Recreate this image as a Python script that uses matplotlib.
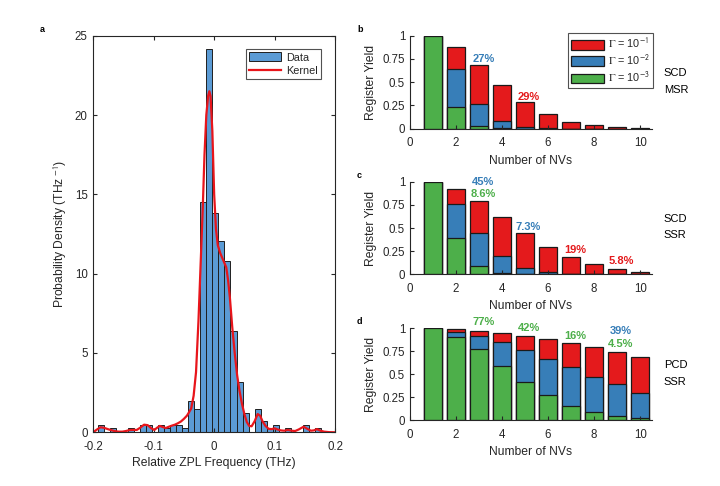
import numpy as np
import matplotlib.pyplot as plt
from matplotlib.patches import Patch
from matplotlib.lines import Line2D

plt.rcParams['font.family'] = ['Liberation Sans', 'DejaVu Sans']
plt.rcParams['mathtext.fontset'] = 'stix'
plt.rcParams['text.color'] = '#262626'
plt.rcParams['axes.labelcolor'] = '#262626'
plt.rcParams['xtick.color'] = '#262626'
plt.rcParams['ytick.color'] = '#262626'

# panel a: histogram of ZPL frequencies (bin width 0.01 THz)
bin_start = -0.193
bin_width = 0.01
density = [0.48, 0, 0.24, 0, 0, 0.24, 0, 0.48, 0.48, 0,
           0.48, 0.24, 0.48, 0.48, 0.24, 1.95, 1.45, 14.5, 24.15, 13.8,
           12.07, 10.82, 6.4, 3.2, 1.2, 0, 1.45, 0.73, 0.24, 0.48,
           0, 0.24, 0, 0, 0.48, 0, 0.24, 0, 0]

kernel_x = [-0.2, -0.195, -0.188, -0.182, -0.176, -0.17, -0.164, -0.158, -0.152, -0.146,
            -0.14, -0.134, -0.128, -0.122, -0.116, -0.11, -0.104, -0.099, -0.094, -0.09,
            -0.085, -0.08, -0.075, -0.07, -0.065, -0.06, -0.055, -0.05, -0.045, -0.041,
            -0.038, -0.034, -0.03, -0.026, -0.022, -0.019, -0.016, -0.013, -0.01, -0.008,
            -0.006, -0.003, 0.0, 0.003, 0.006, 0.01, 0.015, 0.02, 0.023, 0.026,
            0.03, 0.034, 0.038, 0.042, 0.046, 0.05, 0.054, 0.058, 0.062, 0.067,
            0.072, 0.076, 0.08, 0.085, 0.09, 0.095, 0.1, 0.105, 0.11, 0.116,
            0.122, 0.128, 0.134, 0.14, 0.148, 0.154, 0.16, 0.165, 0.17, 0.176,
            0.182, 0.19, 0.2]
kernel_y = [0.0, 0.15, 0.32, 0.28, 0.2, 0.13, 0.07, 0.04, 0.04, 0.08,
            0.14, 0.15, 0.15, 0.3, 0.48, 0.45, 0.25, 0.15, 0.3, 0.4,
            0.33, 0.27, 0.35, 0.42, 0.48, 0.57, 0.68, 0.85, 1.05, 1.3,
            1.5, 2.3, 3.8, 7.0, 11.0, 14.0, 17.5, 20.0, 21.2, 21.5,
            21.2, 19.0, 15.0, 12.8, 11.8, 11.3, 10.85, 10.4, 9.6, 8.5,
            6.6, 5.0, 3.6, 2.6, 1.8, 1.15, 0.65, 0.4, 0.38, 0.7,
            1.15, 1.05, 0.7, 0.4, 0.22, 0.2, 0.25, 0.18, 0.12, 0.1,
            0.15, 0.1, 0.08, 0.18, 0.35, 0.22, 0.1, 0.12, 0.2, 0.1,
            0.04, 0.01, 0.0]

# panels b-d: register yield vs number of NVs, for three Gamma values
n_nv = [1, 2, 3, 4, 5, 6, 7, 8, 9, 10]
b_g1 = [1, 0.88, 0.69, 0.47, 0.29, 0.16, 0.075, 0.035, 0.015, 0.005]
b_g2 = [1, 0.64, 0.27, 0.08, 0.02, 0.003, 0, 0, 0, 0]
b_g3 = [1, 0.23, 0.03, 0.005, 0, 0, 0, 0, 0, 0]
c_g1 = [1, 0.92, 0.79, 0.62, 0.45, 0.30, 0.19, 0.11, 0.058, 0.025]
c_g2 = [1, 0.76, 0.45, 0.20, 0.073, 0.02, 0.005, 0, 0, 0]
c_g3 = [1, 0.39, 0.086, 0.01, 0, 0, 0, 0, 0, 0]
d_g1 = [1, 0.99, 0.975, 0.95, 0.92, 0.88, 0.84, 0.80, 0.745, 0.69]
d_g2 = [1, 0.965, 0.92, 0.85, 0.76, 0.67, 0.58, 0.47, 0.39, 0.30]
d_g3 = [1, 0.91, 0.77, 0.59, 0.42, 0.28, 0.16, 0.085, 0.045, 0.02]

red = '#E41A1C'
blue = '#377EB8'
green = '#4DAF4A'

b_notes = [(3.19, 0.75, '27%', blue), (5.15, 0.344, '29%', red)]
c_notes = [(3.19, 1.0, '45%', blue), (3.19, 0.864, '8.6%', green),
           (5.15, 0.514, '7.3%', blue), (7.17, 0.262, '19%', red),
           (9.16, 0.144, '5.8%', red)]
d_notes = [(3.19, 1.065, '77%', green), (5.17, 1.007, '42%', green),
           (7.17, 0.92, '16%', green), (9.16, 0.974, '39%', blue),
           (9.16, 0.826, '4.5%', green)]

TICK = 8.3
LAB = 8.7

fig = plt.figure(figsize=(7.2, 4.86), dpi=100)

# ---- panel a
ax = fig.add_axes([0.1296, 0.1105, 0.3357, 0.816])
edges = bin_start + bin_width * np.arange(len(density))
ax.bar(edges, density, width=bin_width, align='edge', color='#5B9BD5',
       edgecolor='#1f1f1f', linewidth=0.7)
ax.plot(kernel_x, kernel_y, color='#E8151B', lw=1.6)
ax.set_xlim(-0.2, 0.2)
ax.set_ylim(0, 25)
ax.set_xticks([-0.2, -0.1, 0, 0.1, 0.2])
ax.set_xticklabels(['-0.2', '-0.1', '0', '0.1', '0.2'])
ax.set_yticks([0, 5, 10, 15, 20, 25])
ax.tick_params(direction='in', length=3, labelsize=TICK, top=True, right=True, width=0.8)
ax.tick_params(axis='x', pad=6)
ax.tick_params(axis='y', pad=4)
for s in ax.spines.values():
    s.set_color('#262626')
    s.set_linewidth(0.8)
ax.set_xlabel('Relative ZPL Frequency (THz)', fontsize=LAB, labelpad=3)
ax.set_ylabel('Probability Density (THz$^{\\ \\mathsf{-1}}$)', fontsize=LAB, labelpad=4)
handles = [Patch(facecolor='#5B9BD5', edgecolor='#1f1f1f', linewidth=0.7),
           Line2D([], [], color='#E8151B', lw=1.6)]
leg = ax.legend(handles, ['Data', 'Kernel'], loc='upper right',
                bbox_to_anchor=(0.941, 0.966), borderaxespad=0, fontsize=7.8,
                fancybox=False, handlelength=3.0, handleheight=0.9,
                borderpad=0.3, labelspacing=0.3, handletextpad=0.4)
leg.get_frame().set_edgecolor('#262626')
leg.get_frame().set_linewidth(0.8)
fig.text(0.055, 0.935, 'a', fontsize=6.5, fontweight='bold', color='black')

# ---- panels b, c, d
panels = [
    ([0.5694, 0.7352, 0.3357, 0.1914], b_g1, b_g2, b_g3, b_notes, 'b', ('SCD', 'MSR')),
    ([0.5694, 0.4356, 0.3357, 0.1905], c_g1, c_g2, c_g3, c_notes, 'c', ('SCD', 'SSR')),
    ([0.5694, 0.1352, 0.3357, 0.1893], d_g1, d_g2, d_g3, d_notes, 'd', ('PCD', 'SSR')),
]
for pos, g1, g2, g3, notes, letter, tags in panels:
    ax = fig.add_axes(pos)
    kw = dict(width=0.8, edgecolor='#1a1a1a', linewidth=0.9)
    b1 = ax.bar(n_nv, g1, color=red, **kw)
    b2 = ax.bar(n_nv, g2, color=blue, **kw)
    b3 = ax.bar(n_nv, g3, color=green, **kw)
    ax.set_xlim(0, 10.5)
    ax.set_ylim(0, 1)
    ax.set_xticks([0, 2, 4, 6, 8, 10])
    ax.set_yticks([0, 0.25, 0.5, 0.75, 1])
    ax.set_yticklabels(['0', '0.25', '0.5', '0.75', '1'])
    ax.tick_params(direction='in', length=3, labelsize=TICK, width=0.8)
    ax.tick_params(axis='x', pad=6)
    ax.spines['top'].set_visible(False)
    ax.spines['right'].set_visible(False)
    for s in ('left', 'bottom'):
        ax.spines[s].set_color('#262626')
        ax.spines[s].set_linewidth(0.8)
    ax.set_xlabel('Number of NVs', fontsize=LAB, labelpad=4)
    ax.set_ylabel('Register Yield', fontsize=LAB, labelpad=4)
    for x, y, txt, col in notes:
        ax.text(x, y, txt, color=col, fontsize=8, fontweight='bold',
                ha='center', va='center', clip_on=False)
    ax.text(1.05, 0.6, tags[0], transform=ax.transAxes, fontsize=8,
            color='black', va='center', ha='left')
    ax.text(1.05, 0.42, tags[1], transform=ax.transAxes, fontsize=8,
            color='black', va='center', ha='left')
    bb = ax.get_position()
    fig.text(0.496, bb.y1 + 0.0085, letter, fontsize=6.5, fontweight='bold', color='black')
    if letter == 'b':
        lg = ax.legend([b1, b2, b3],
                       ['$\\Gamma$ = 10$^{\\mathsf{-1}}$', '$\\Gamma$ = 10$^{\\mathsf{-2}}$',
                        '$\\Gamma$ = 10$^{\\mathsf{-3}}$'],
                       loc='upper right', bbox_to_anchor=(1.007, 1.026), borderaxespad=0,
                       fontsize=7.8, fancybox=False, handlelength=3.0, handleheight=1.0,
                       borderpad=0.3, labelspacing=0.2, handletextpad=0.4)
        lg.get_frame().set_edgecolor('#262626')
        lg.get_frame().set_linewidth(0.8)

fig.savefig('out.png', dpi=100)
